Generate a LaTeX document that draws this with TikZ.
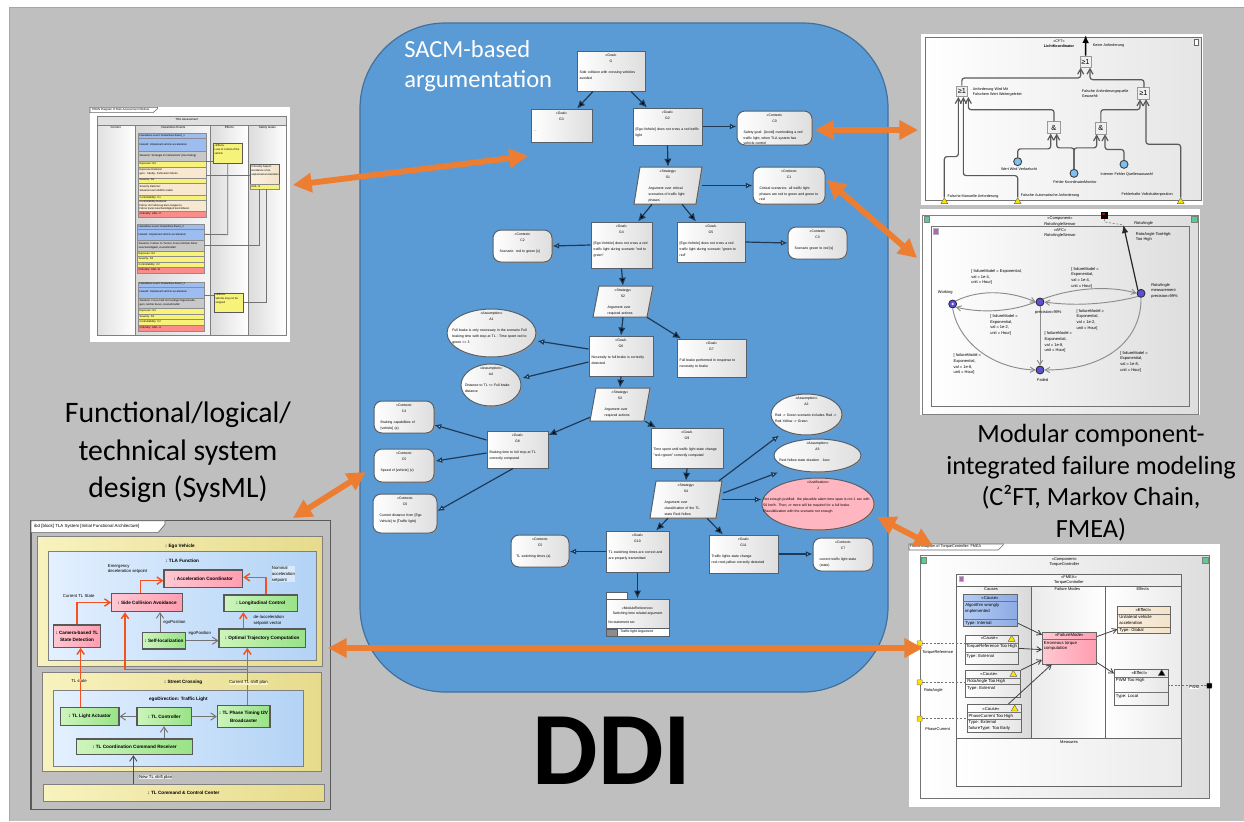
\documentclass[tikz,border=0pt]{standalone}
\usepackage{fontspec}
\setmainfont{Liberation Sans}
\newfontfamily\capfont{Carlito}
\newfontfamily\ddifont{Carlito}
\usetikzlibrary{arrows.meta,shapes.geometric,shadows,calc}
\definecolor{bggray}{HTML}{BFBFBF}
\definecolor{panelblue}{HTML}{5B9BD5}
\definecolor{paneledge}{HTML}{41719C}
\definecolor{orng}{HTML}{ED7D31}
\definecolor{boxedge}{HTML}{55606A}
\definecolor{conn}{HTML}{1E3A57}
\definecolor{redconn}{HTML}{F4511E}
\definecolor{pinkL}{HTML}{FFC8D2}
\definecolor{pinkR}{HTML}{FF9DB0}
\definecolor{greenL}{HTML}{CDF5BC}
\definecolor{greenR}{HTML}{98E286}
\definecolor{yelL}{HTML}{F8F2BE}
\definecolor{yelR}{HTML}{E6DB8C}
\definecolor{bluL}{HTML}{E3F0FF}
\definecolor{bluR}{HTML}{B3D3F5}
\definecolor{causeL}{HTML}{B4CCF4}
\definecolor{causeR}{HTML}{8CAAE4}
\definecolor{beigeL}{HTML}{FBF2E4}
\definecolor{beigeR}{HTML}{F2E2C8}
\definecolor{basicblue}{HTML}{7EC0EE}
\definecolor{stateblue}{HTML}{5A4FD9}
\definecolor{hzblue}{HTML}{9DBDF0}
\definecolor{hzgray}{HTML}{C8C8C8}
\definecolor{hzyellow}{HTML}{F7F37A}
\definecolor{hzbeige}{HTML}{F8E8D0}
\definecolor{hzred}{HTML}{FA8C8C}
\definecolor{justpink}{HTML}{FFB6C1}
\newcommand\fs[2]{\fontsize{#1pt}{#2pt}\selectfont}
\newcount\nc
\def\un{0.75}
% generic rectangle-like node from corners: name,x1,y1,x2,y2,style,text
\newcommand\bx[7]{%
  \pgfmathsetmacro\cxx{(#2+#4)/2}\pgfmathsetmacro\cyy{(#3+#5)/2}%
  \pgfmathsetmacro\wdd{(#4-#2)*\un}\pgfmathsetmacro\htt{(#5-#3)*\un}%
  \node[inner sep=0pt,minimum width=\wdd pt,minimum height=\htt pt,#6] (#1) at (\cxx,\cyy) {#7};}
% text-only node: [opts] x y anchor text
\newcommand\lb[5][]{\global\advance\nc by 1
  \node[inner sep=0pt,anchor=#4,align=left,#1] (t\the\nc) at (#2,#3) {#5};}
% GSN text placed at the top of box #1: width inset, stereotype, id, body
\newcommand\gt[5]{\global\advance\nc by 1
  \pgfmathsetmacro\twd{\wdd-#2}%
  \node[anchor=north,inner sep=0pt,text width=\twd pt,font=\fs{2.6}{4.2},yshift=-2.6pt] (t\the\nc) at (#1.north)
   {\centering #3\\#4\par\vspace{4.4pt}\raggedright #5\par};}
% GSN strategy (parallelogram): name,x1,y1,x2,y2,skew
\newcommand\strat[6]{%
  \draw[gsn] ({#2+#6},#3) -- (#4,#3) -- ({#4-#6},#5) -- (#2,#5) -- cycle;
  \bx{#1}{#2}{#3}{#4}{#5}{}{}}
\tikzset{
  gsn/.style={draw=boxedge,line width=.75pt,left color=white,right color=black!13,
    copy shadow={shadow xshift=.7pt,shadow yshift=-.7pt,draw=none,fill=black!40}},
  goalbox/.style={gsn,rectangle},
  ctxbox/.style={gsn,rectangle,rounded corners=6pt},
  ellbox/.style={gsn,ellipse},
  garrow/.style={draw=conn,line width=.9pt,-{Latex[length=6pt,width=5.5pt,fill=black]}},
  warrow/.style={draw=conn,line width=.9pt,-{Latex[length=5pt,width=4.5pt,fill=white]}},
  bigarrow/.style={draw=orng,line width=4.4pt,{Triangle[length=14pt,width=14pt]}-{Triangle[length=14pt,width=14pt]}},
  captionA/.style={font=\capfont\fs{22.3}{28},align=center,inner sep=0pt},
  captionB/.style={font=\capfont\fs{19.7}{23.6},align=center,inner sep=0pt},
  hzrow/.style={draw=black!45,line width=.25pt,inner sep=0pt},
  t20/.style={font=\fs{2}{2.8}},
  t22/.style={font=\fs{2.2}{3.1}},
  t3/.style={font=\fs{3}{4.2}},
  t32/.style={font=\fs{3.2}{4.4}},
  tb/.style={font=\fs{3.5}{5.6}\bfseries},
  pinkb/.style={draw=black!65,line width=.8pt,left color=pinkL,right color=pinkR,
    copy shadow={shadow xshift=.4pt,shadow yshift=-.4pt,draw=none,fill=black!30}},
  greenb/.style={draw=black!65,line width=.8pt,left color=greenL,right color=greenR,
    copy shadow={shadow xshift=.4pt,shadow yshift=-.4pt,draw=none,fill=black!30}},
  yellowb/.style={draw=black!50,line width=.6pt,left color=yelL,right color=yelR},
  blueb/.style={draw=black!50,line width=.6pt,left color=bluL,right color=bluR},
  rline/.style={draw=redconn,line width=1.1pt,-{Straight Barb[length=4pt,width=5.5pt]}},
  gline/.style={draw=black!55,line width=.7pt,-{Straight Barb[length=4pt,width=5.5pt]}},
  ftline/.style={draw=black!65,line width=.9pt,rounded corners=2pt,-{Straight Barb[length=4pt,width=4.5pt]}},
  gate/.style={draw=black!40,fill=black!6,line width=.5pt,font=\fs{5.5}{6.5}},
  basic/.style={circle,draw=black!75,fill=basicblue,line width=.7pt,inner sep=0pt,minimum size=6pt},
  warn/.style={regular polygon,regular polygon sides=3,draw=black!60,fill=yellow!85!orange,line width=.3pt,inner sep=0pt,minimum size=6pt},
  stateb/.style={circle,draw=black!85,fill=stateblue,line width=.6pt,inner sep=0pt,minimum size=6pt},
  smline/.style={draw=black!45,line width=.7pt,-{Straight Barb[length=3.4pt,width=4pt]}},
  clsbox/.style={draw=black!60,line width=.5pt,left color=white,right color=black!10,
    copy shadow={shadow xshift=.4pt,shadow yshift=-.4pt,draw=none,fill=black!40}},
  clsarrow/.style={draw=black!75,line width=.6pt,-{Straight Barb[length=3.4pt,width=4pt]}},
  port/.style={draw=black!50,fill=yellow!80!orange,line width=.3pt,inner sep=0pt,minimum size=3.9pt,rounded corners=.4pt},
  dashl/.style={draw=black!55,line width=.3pt,dash pattern=on 1.6pt off 1.2pt},
  titletab/.style={draw=black!60,fill=white,line width=.4pt},
  tealtab/.style={draw=black!50,fill=teal!60!green!65,line width=.2pt,inner sep=0pt,minimum size=4.4pt}
}
\begin{document}
\begin{tikzpicture}[x=0.75pt,y=-0.75pt]
\useasboundingbox (0,0) rectangle (1244,821);
\fill[white] (0,0) rectangle (1244,821);
\fill[bggray] (9,7) rectangle (1244,821);
\draw[black!35,line width=.5pt] (9,821) -- (9,7) -- (1244,7);

% ---------- central panel ----------
\bx{panel}{360}{23}{888}{692}{draw=paneledge,line width=.9pt,fill=panelblue,rounded corners=64pt}{}
\lb[font=\capfont\fs{18.4}{22.5},text=white]{404}{66}{west}{SACM-based\\argumentation}

\bx{g0}{577}{51}{645}{91}{goalbox}{}\gt{g0}{4}{«Goal»}{G}{Side collision with crossing vehicles avoided}
\bx{g3}{531}{109}{592}{142}{goalbox}{}\gt{g3}{4}{«Goal»}{G3}{...}
\bx{g2}{633}{108}{702}{145}{goalbox}{}\gt{g2}{4}{«Goal»}{G2}{[Ego-Vehicle] does not cross a red traffic light}
\bx{c0}{737}{111}{812}{145}{ctxbox}{}\gt{c0}{10}{«Context»}{C0}{Safety goal: [Avoid] overlooking a red traffic light, when TLA system has vehicle control}
\strat{s1}{634}{167}{702}{204}{6}\gt{s1}{22}{«Strategy»}{S1}{Argument over critical scenarios of traffic light phases}
\bx{c1}{753}{167}{825}{204}{ctxbox}{}\gt{c1}{10}{«Context»}{C1}{Critical scenarios: all traffic light phases are red to green and green to red}
\bx{g4}{591}{222}{652}{268}{goalbox}{}\gt{g4}{4}{«Goal»}{G4}{[Ego-Vehicle] does not cross a red traffic light during scenario "red to green"}
\bx{g5}{677}{222}{745}{262}{goalbox}{}\gt{g5}{4}{«Goal»}{G5}{[Ego-Vehicle] does not cross a red traffic light during scenario "green to red"}
\bx{c2}{493}{230}{552}{262}{ctxbox}{}\gt{c2}{10}{«Context»}{C2}{Scenario: red to green [s]}
\bx{c3}{788}{227}{847}{259}{ctxbox}{}\gt{c3}{10}{«Context»}{C3}{Scenario green to red [s]}
\strat{s2}{593}{286}{653}{317}{6}\gt{s2}{22}{«Strategy»}{S2}{Argument over required actions}
\bx{g6}{589}{336}{653}{376}{goalbox}{}\gt{g6}{4}{«Goal»}{G6}{Necessity to full brake is correctly detected}
\bx{g7}{677}{339}{746}{377}{goalbox}{}\gt{g7}{4}{«Goal»}{G7}{Full brake performed in response to necessity to brake}
\bx{a1}{447}{309}{536}{357}{ellbox}{}\gt{a1}{8}{«Assumption»}{A1}{Full brake is only necessary in the scenario Full braking time with step at TL - Time spent red to green >= 3}
\bx{a4}{461}{364}{521}{406}{ellbox}{}\gt{a4}{6}{«Assumption»}{A4}{Distance to TL <= Full brake distance}
\strat{s3}{590}{388}{650}{421}{6}\gt{s3}{22}{«Strategy»}{S3}{Argument over required actions}
\bx{g8}{487}{431}{548}{468}{goalbox}{}\gt{g8}{4}{«Goal»}{G8}{Braking time to full stop at TL correctly computed}
\bx{g9}{651}{428}{723}{468}{goalbox}{}\gt{g9}{4}{«Goal»}{G9}{Time spent until traffic light state change "red->green" correctly computed}
\strat{s4}{650}{481}{722}{518}{6}\gt{s4}{22}{«Strategy»}{S4}{Argument over classification of the TL state Red-Yellow}
\bx{a2}{771}{394}{842}{435}{ellbox}{}\gt{a2}{6}{«Assumption»}{A2}{Red -> Green scenario includes Red -> Red-Yellow -> Green}
\bx{a3}{774}{439}{861}{472}{ellbox}{}\gt{a3}{8}{«Assumption»}{A3}{Red-Yellow state duration ~ 1sec}
\bx{jj}{762}{478}{874}{530}{draw=boxedge,line width=.75pt,ellipse,fill=justpink,copy shadow={shadow xshift=.7pt,shadow yshift=-.7pt,draw=none,fill=black!40}}{}\gt{jj}{2}{«Justification»}{J}{Not enough justified: the plausible alarm time span is not 1 sec with 50 km/h. Then, or more will be required for a full brake. Plausibilization with the scenario not enough}
\bx{g10}{606}{531}{669}{572}{goalbox}{}\gt{g10}{4}{«Goal»}{G10}{TL switching times are correct and are properly transmitted}
\bx{g11}{709}{535}{778}{573}{goalbox}{}\gt{g11}{4}{«Goal»}{G11}{Traffic lights state change red->red-yellow correctly detected}
\bx{c5b}{511}{535}{569}{567}{ctxbox}{}\gt{c5b}{8}{«Context»}{C5}{TL switching times (a)}
\bx{c7}{813}{538}{873}{571}{ctxbox}{}\gt{c7}{10}{«Context»}{C7}{current traffic light state (state)}
\bx{c4}{374}{401}{434}{433}{ctxbox}{}\gt{c4}{10}{«Context»}{C4}{Braking capabilities of [vehicle] (a)}
\bx{c5a}{374}{449}{434}{482}{ctxbox}{}\gt{c5a}{10}{«Context»}{C5}{Speed of [vehicle] (v)}
\bx{c6}{373}{494}{437}{533}{ctxbox}{}\gt{c6}{10}{«Context»}{C6}{Current distance from [Ego Vehicle] to [Traffic light]}
% module reference
\bx{pkgtab}{606}{592}{627}{599}{draw=boxedge,line width=.7pt,fill=white}{}
\bx{pkg}{606}{599}{669}{636}{goalbox}{}
\lb[font=\fs{2.6}{4.2},align=center]{637.5}{611}{center}{«ModuleReference»\\Switching time related argument}
\lb[font=\fs{2.6}{4.2}]{608}{622}{west}{No statement set}
\draw[boxedge,line width=.5pt,fill=white] (606,628) rectangle (669,636);
\bx{pkgicon}{606}{629}{617}{636}{draw=boxedge,line width=.5pt,fill=black!45}{}
\lb[font=\fs{2.6}{4.2}]{620}{632}{west}{Traffic light Argument}

% GSN connectors
\draw[garrow] ([shift={(-18,0)}]g0.south) -- ([shift={(15.5,0)}]g3.north);
\draw[garrow] ([shift={(20,0)}]g0.south) -- ([shift={(-20.5,0)}]g2.north);
\draw[warrow] (g2.east) -- (g2.east -| c0.west);
\draw[garrow] (g2.south) -- (s1.north);
\draw[warrow] (s1.east) -- (c1.west);
\draw[garrow] ([shift={(-16,0)}]s1.south) -- ([shift={(16.5,0)}]g4.north);
\draw[garrow] ([shift={(14,0)}]s1.south) -- ([shift={(-15,0)}]g5.north);
\draw[warrow] (g4.west) -- (c2.east);
\draw[warrow] (g5.east) -- (c3.west);
\draw[garrow] (g4.south) -- (s2.north);
\draw[garrow] (s2.south) -- (g6.north);
\draw[garrow] ([shift={(24,0)}]s2.south) -- ([shift={(-30.5,0)}]g7.north);
\draw[warrow] ([shift={(0,-7)}]g6.west) -- ([shift={(1,8)}]a1.east);
\draw[warrow] ([shift={(0,6)}]g6.west) -- ([shift={(1,-7)}]a4.east);
\draw[garrow] (g6.south) -- (s3.north);
\draw[garrow] ([shift={(-30,-4)}]s3.south) -- ([shift={(0,-14.5)}]g8.east);
\draw[garrow] ([shift={(25,0)}]s3.south) -- ([shift={(-31,0)}]g9.north);
\draw[warrow] ([shift={(0,-9.5)}]g8.west) -- ([shift={(0,8)}]c4.east);
\draw[warrow] ([shift={(0,3.5)}]g8.west) -- ([shift={(1,-4.5)}]c5a.east);
\draw[warrow] ([shift={(-4.5,0)}]g8.south) -- ([shift={(0,-2.5)}]c6.east);
\draw[garrow] (g9.south) -- (s4.north);
\draw[warrow] ([shift={(33,0)}]s4.north) -- ([shift={(-27.5,0)}]a2.south);
\draw[warrow] ([shift={(1,-6.5)}]s4.east) -- ([shift={(-39.5,0)}]a3.south);
\draw[warrow] (s4.east) -- (s4.east -| jj.west);
\draw[garrow] ([shift={(-18,0)}]s4.south) -- ([shift={(18.5,0)}]g10.north);
\draw[garrow] ([shift={(21,0)}]s4.south) -- ([shift={(-20.5,0)}]g11.north);
\draw[warrow] (g10.west) -- (g10.west -| c5b.east);
\draw[warrow] (g11.east) -- (g11.east -| c7.west);
\draw[garrow] (g10.south) -- (pkg.north);

% ---------- top-left panel: risk assessment ----------
\begin{scope}[shift={(85,100)},x=0.25pt,y=-0.25pt]
\def\un{0.25}
\bx{tlw}{15}{22}{615}{725}{fill=white}{}
\draw[titletab] (15,22) -- (218,22) -- (218,26) -- (204,38) -- (15,38) -- cycle;
\lb[t22]{20}{30}{west}{HRAN Diagram of Risk Assessment Module}
\bx{tlo}{37}{50}{605}{707}{draw=black!55,line width=.6pt,fill=black!5}{}
\draw[black!50,line width=.4pt,fill=black!12] (37,50) rectangle (605,75);
\lb[t22]{305}{58}{center}{TRA Assessment}
\draw[draw=black!50,line width=.4pt,left color=black!12,right color=white] (37,75) rectangle (150,707);
\draw[draw=black!50,line width=.4pt,left color=black!16,right color=black!4] (150,75) rectangle (377,707);
\draw[draw=black!50,line width=.4pt,left color=black!14,right color=white] (377,75) rectangle (490,707);
\draw[draw=black!50,line width=.4pt,left color=black!14,right color=white] (490,75) rectangle (605,707);
\lb[t22]{92}{82}{center}{Context}
\lb[t22]{265}{82}{center}{Hazardous Events}
\lb[t22]{433}{82}{center}{Effects}
\lb[t22]{547}{82}{center}{Safety Goals}
\newcommand\hz[6]{\bx{hz\the\nc r#3}{#1}{#3}{#2}{#4}{hzrow,fill=#5}{}\lb[t20]{{#1+3}}{{(#3+#4)/2}}{west}{#6}}
\hz{160}{362}{100}{115}{hzblue}{Hazardous event: Hazardous Event\_1}
\hz{160}{362}{115}{152}{hzblue}{Hazard: Unplanned vehicle acceleration}
\hz{160}{362}{152}{183}{hzgray}{Situation: Strategie im Nahverkehr (Use Rating)}
\hz{160}{362}{183}{200}{hzyellow}{Exposure: E3}
\hz{160}{362}{200}{233}{hzbeige}{Exposure Rational:\\gern - häufig - Fahrzeiten fahren}
\hz{160}{362}{233}{248}{hzyellow}{Severity: S3}
\hz{160}{362}{248}{285}{hzbeige}{Severity Rational:\\Situation kann tödlich enden}
\hz{160}{362}{285}{300}{hzyellow}{Controllability: C1}
\hz{160}{362}{300}{333}{hzbeige}{Controllability Rational:\\Fahrer im Fahrzeug kann reagieren,\\Fahrer kann Geschwindigkeit kontrollieren}
\hz{160}{362}{333}{352}{hzred}{Criticality: ASIL: C}
\hz{157}{358}{372}{388}{hzblue}{Hazardous event: Hazardous Event\_2}
\hz{157}{358}{388}{420}{hzblue}{Hazard: Unplanned vehicle acceleration}
\hz{157}{358}{420}{453}{hzgray}{Situation: Fahren im Tunnel, Fress-Feld bei hoher\\Geschwindigkeit, Ausnahmefall}
\hz{157}{358}{453}{469}{hzyellow}{Exposure: E3}
\hz{157}{358}{469}{485}{hzyellow}{Severity: S3}
\hz{157}{358}{485}{501}{hzyellow}{Controllability: C2}
\hz{157}{358}{501}{518}{hzred}{Criticality: ASIL: B}
\hz{160}{358}{545}{560}{hzblue}{Hazardous event: Hazardous Event\_3}
\hz{160}{358}{560}{593}{hzblue}{Hazard: Unplanned vehicle acceleration}
\hz{160}{358}{593}{625}{hzgray}{Situation: Fress-Feld mit niedriger Eigenstraße,\\gern, leichte Kurve, Ausnahmefall}
\hz{160}{358}{625}{641}{hzyellow}{Exposure: E3}
\hz{160}{358}{641}{657}{hzyellow}{Severity: S3}
\hz{160}{358}{657}{674}{hzyellow}{Controllability: C2}
\hz{160}{358}{674}{692}{hzred}{Criticality: ASIL: A}
\bx{ef1}{385}{130}{472}{190}{hzrow,draw=black!65,line width=.5pt,fill=hzyellow}{}
\lb[t20]{388}{148}{west}{«Effect»\\Loss of control of the\\vehicle}
\bx{ef2}{388}{580}{476}{636}{hzrow,draw=black!65,line width=.5pt,fill=hzyellow}{}
\lb[t20]{391}{597}{west}{«Effect»\\Vehicle may not be\\stopped}
\bx{sg}{495}{193}{583}{267}{hzrow,draw=black!65,line width=.5pt,left color=beigeL,right color=beigeR}{}
\bx{sgb}{495}{252}{583}{267}{hzrow,fill=hzyellow}{}
\lb[t20]{498}{212}{west}{Criticality Aspect:\\Avoidance of an\\unplanned acceleration}
\lb[t20]{498}{259}{west}{ASIL: B}
\draw[black!55,line width=.6pt] (ef1.south) -- ++(0,213) -- (358,403);
\draw[black!55,line width=.6pt] (362,185) -- (ef1.west |- 362,185);
\draw[black!55,line width=.6pt] (362,226) -- (sg.west |- 362,226);
\draw[black!55,line width=.6pt] ([shift={(-16,0)}]sg.south) |- (358,437);
\draw[black!55,line width=.6pt] (358,587) -- (ef2.west |- 358,587);
\draw[black!55,line width=.6pt] (ef2.east |- 476,606) -| ([shift={(6,0)}]sg.south);
\end{scope}

% ---------- top-right panel: CFT ----------
\begin{scope}[shift={(915,30)},x=0.25pt,y=-0.25pt]
\def\un{0.25}
\bx{trw}{18}{12}{865}{525}{fill=white}{}
\bx{tro}{30}{22}{860}{512}{draw=black!55,line width=.6pt,left color=white,right color=black!10}{}
\draw[black!60,line width=.3pt,fill=white] (838,28) rectangle (850,45);
\coordinate (ftop) at (512,15);
\bx{gt}{495}{78}{528}{112}{gate}{≥1}
\bx{gl}{123}{168}{158}{200}{gate}{≥1}
\bx{gr}{668}{173}{703}{207}{gate}{≥1}
\bx{ga}{398}{275}{435}{310}{gate}{\&}
\bx{gb}{540}{278}{575}{312}{gate}{\&}
\node[basic] (cw) at (308,395) {};
\node[basic] (ck) at (477,430) {};
\node[basic] (ci) at (627,403) {};
\node[warn] (tr1) at (88,515) {};
\node[warn] (tr2) at (308,515) {};
\node[warn] (tr3) at (797,515) {};
\draw[black,line width=1.1pt,-{Latex[length=6pt,width=5pt]}] (gt.north) -- (ftop);
\draw[ftline] (gl.north) -- ++(0,-23) -| ([shift={(-14.5,0)}]gt.south);
\draw[ftline] ([shift={(1.5,0)}]gr.north) -- ++(0,-23) -| ([shift={(13.5,0)}]gt.south);
\draw[ftline] ([shift={(.5,0)}]ga.north) -- ++(0,-35) -| ([shift={(19.5,0)}]gl.south);
\draw[ftline] (gb.north) -- ++(0,-38) -| ([shift={(-10.5,0)}]gr.south);
\draw[ftline] (tr1.north) -- ++(0,-122) -| ([shift={(-10.5,0)}]gl.south);
\draw[ftline] (tr2.north) -- ++(0,-65) -| ([shift={(4.5,0)}]gl.south);
\draw[ftline] (tr3.north) -- ++(0,-159) -| ([shift={(7.5,0)}]gr.south);
\draw[ftline] (cw.north) -- ++(0,-25) -| ([shift={(-9.5,0)}]ga.south);
\draw[ftline] (ck.north) -- ++(0,-63) -| ([shift={(8.5,0)}]ga.south);
\draw[ftline] (ck.north) -- ++(0,-63) -| ([shift={(-12.5,0)}]gb.south);
\draw[ftline] (ci.north) -- ++(0,-31) -| ([shift={(12.5,0)}]gb.south);
\lb[font=\fs{2.8}{3.9},align=center]{432}{42}{center}{«CFT»\\\textbf{LichtKoordinator}}
\lb[font=\fs{2.8}{3.9}]{533}{46}{west}{Keine Anforderung}
\lb[font=\fs{2.8}{3.9}]{173}{186}{west}{Anforderung Wird Mit\\Falschem Wert Weitergeleitet}
\lb[font=\fs{2.8}{3.9}]{500}{190}{west}{Falsche Anforderungsquelle\\Gewaehlt}
\lb[font=\fs{2.8}{3.9}]{312}{417}{center}{Wert Wird Verfaelscht}
\lb[font=\fs{2.8}{3.9}]{480}{457}{center}{Fehler KoordinatorMonitor}
\lb[font=\fs{2.8}{3.9}]{635}{432}{center}{Interner Fehler Quellenauswahl}
\lb[font=\fs{2.8}{3.9}]{97}{499}{west}{Falsche Manuelle Anforderung}
\lb[font=\fs{2.8}{3.9}]{317}{497}{west}{Falsche Automatische Anforderung}
\lb[font=\fs{2.8}{3.9}]{619}{494}{west}{Fehlerhafte Volkshalterposition}
\end{scope}

% ---------- middle-right panel: Markov chain ----------
\begin{scope}[shift={(915,205)},x=0.25pt,y=-0.25pt]
\def\un{0.25}
\bx{mrw}{15}{12}{855}{630}{fill=white}{}
\bx{mro}{22}{30}{850}{627}{draw=black!50,line width=.6pt,left color=white,right color=black!13}{}
\bx{mri}{50}{65}{823}{605}{draw=black!55,line width=.8pt,left color=white,right color=black!13}{}
\node[tealtab] (tab1) at (35,42) {};
\node[tealtab] (tab2) at (838,42) {};
\bx{mic}{55}{70}{70}{87}{fill=violet!60!white,draw=black!30,line width=.2pt}{}
\bx{bsq}{558}{20}{579}{41}{fill=black}{}
\bx{bsr}{561}{23}{569}{29}{fill=red!70!black}{}
\node[stateb] (sw) at (113,297) {};
\fill[white!85!blue] (113,297) circle (4);
\node[stateb] (sp) at (375,291) {};
\node[stateb] (sr) at (678,265) {};
\node[stateb] (sf) at (375,495) {};
\coordinate (rtop) at (625,60);
\draw[dashl,line width=.4pt] (bsq.south) -- ++(0,9) -- (rtop);
\draw[black!85,line width=.9pt,-{Latex[length=6pt,width=5pt]}] (sr.north west) -- (rtop);
\draw[smline] (sw.north east) .. controls (200,250) and (290,260) .. (sp.west);
\draw[smline] (sp.west) .. controls (290,320) and (200,325) .. (sw.south east);
\draw[smline] (sp.north east) .. controls (470,250) and (580,240) .. (sr.west);
\draw[smline] (sr.south west) .. controls (590,295) and (490,305) .. (sp.east);
\draw[smline] (sp.south) -- (sf.north);
\draw[smline] (sw.south) .. controls (130,410) and (230,490) .. (sf.west);
\draw[smline] (sr.south) .. controls (680,400) and (580,495) .. (sf.east);
\lb[t3,align=center]{435}{67}{center}{«Component»\\RotoAngleSensor\\«AFC»\\RotoAngleSensor}
\lb[t3]{657}{55}{west}{RotoAngle}
\lb[t3]{662}{96}{west}{RotoAngle TooHigh:\\Too High}
\lb[t3]{168}{216}{west}{[ failureModel = Exponential,\\val = 1e-4,\\unit = Hour]}
\lb[t3]{468}{218}{west}{[ failureModel =\\Exponential,\\val = 1e-4,\\unit = Hour]}
\lb[t3]{225}{360}{west}{[ failureModel =\\Exponential,\\val = 1e-2,\\unit = Hour]}
\lb[t3]{484}{344}{west}{[ failureModel =\\Exponential,\\val = 1e-2,\\unit = Hour]}
\lb[t3]{388}{412}{west}{[ failureModel =\\Exponential,\\val = 1e-8,\\unit = Hour]}
\lb[t3]{115}{478}{west}{[ failureModel =\\Exponential,\\val = 1e-8,\\unit = Hour]}
\lb[t3]{615}{470}{west}{[ failureModel =\\Exponential,\\val = 1e-8,\\unit = Hour]}
\lb[t3]{68}{262}{west}{Working}
\lb[t3]{400}{322}{center}{precision=99\%}
\lb[t3]{708}{257}{west}{RotoAngle\\measurement\\precision=99\%}
\lb[t3]{383}{526}{center}{Failed}
\end{scope}

% ---------- bottom-left panel: SysML ----------
\begin{scope}[shift={(20,515)},x=0.25pt,y=-0.25pt]
\def\un{0.25}
\bx{sys}{33}{17}{932}{883}{draw=black!65,line width=.8pt,fill=bggray}{}
\draw[titletab,line width=.5pt] (33,17) -- (435,17) -- (435,28) -- (415,52) -- (33,52) -- cycle;
\lb[font=\fs{3.3}{4.4}]{42}{35}{west}{ibd [block] TLA System [Initial Functional Architecture]}
\bx{ego}{52}{65}{907}{455}{yellowb}{}
\bx{tla}{85}{108}{888}{435}{blueb}{}
\bx{str}{68}{473}{905}{770}{yellowb}{}
\bx{tld}{100}{525}{850}{755}{blueb}{}
\bx{cmd}{70}{807}{912}{858}{yellowb}{\fontsize{3.5pt}{5pt}\selectfont\bfseries : TL Command \& Control Center}
\lb[tb]{480}{93}{center}{: Ego Vehicle}
\lb[tb]{487}{137}{center}{: TLA Function}
\lb[tb]{490}{502}{center}{: Street Crossing}
\lb[tb]{475}{553}{center}{egoDirection: Traffic Light}
\bx{acc}{432}{165}{668}{217}{pinkb,tb,align=center}{: Acceleration Coordinator}
\bx{side}{275}{235}{488}{290}{pinkb,tb,align=center}{: Side Collision Avoidance}
\bx{cam}{100}{330}{242}{397}{pinkb,tb,align=center}{: Camera-based TL\\State Detection}
\bx{long}{612}{240}{832}{290}{greenb,tb,align=center}{: Longitudinal Control}
\bx{self}{368}{352}{497}{402}{greenb,tb,align=center}{: Self-localization}
\bx{opt}{597}{342}{857}{397}{greenb,tb,align=center}{: Optimal Trajectory Computation}
\bx{act}{122}{577}{297}{632}{greenb,tb,align=center}{: TL Light Actuator}
\bx{ctrl}{351}{577}{515}{632}{greenb,tb,align=center}{: TL Controller}
\bx{phase}{592}{572}{750}{638}{greenb,tb,align=center}{: TL Phase Timing I2V\\Broadcaster}
\bx{coord}{170}{672}{518}{719}{greenb,tb,align=center}{: TL Coordination Command Receiver}
\draw[rline] (cam.north) |- (side.west);
\draw[rline] ([shift={(-19.5,0)}]side.north) |- ([shift={(0,6)}]acc.west);
\draw[rline] ([shift={(16,0)}]long.north) |- ([shift={(0,-4)}]acc.east);
\draw[rline] ([shift={(-57,0)}]opt.north) -- ([shift={(-52,0)}]long.south);
\draw[rline] ([shift={(11,0)}]phase.north) -- ([shift={(-45,0)}]opt.south);
\draw[rline] ([shift={(11,-107)}]phase.north) -| ([shift={(-66.5,0)}]side.south);
\draw[rline] ([shift={(-27.5,0)}]act.north) -- ([shift={(11,0)}]cam.south);
\draw[gline] ([shift={(-12.5,0)}]self.north) -- ([shift={(38.5,0)}]side.south);
\draw[gline] (self.east) -- (self.east -| opt.west);
\draw[gline] (ctrl.west) -- (ctrl.west -| act.east);
\draw[gline] (ctrl.east) -- (ctrl.east -| phase.west);
\draw[gline] ([shift={(88,0)}]coord.north) -- ([shift={(-1,0)}]ctrl.south);
\draw[gline,draw=black!70] ([shift={(-151,0)}]cmd.north) -- ([shift={(-4,0)}]coord.south);
\lb[t32]{263}{162}{west}{Emergency\\deceleration setpoint}
\lb[t32,fill=bluR!50!white]{755}{178}{west}{Nominal\\acceleration\\setpoint}
\lb[t32]{128}{243}{west}{Current TL State}
\lb[t32]{429}{323}{west}{egoPosition}
\lb[t32]{505}{355}{west}{egoPosition}
\lb[t32]{700}{316}{west}{de-/acceleration\\setpoint vector}
\lb[t32,fill=yelL]{177}{497}{center}{TL state}
\lb[t32,fill=yelL]{685}{503}{center}{Current TL shift plan}
\lb[t32,fill=black!8]{407}{787}{center}{New TL shift plan}
\end{scope}

% ---------- bottom-right panel: FMEA ----------
\begin{scope}[shift={(905,540)},x=0.25pt,y=-0.25pt]
\def\un{0.25}
\bx{brw}{12}{12}{945}{800}{fill=white}{}
\draw[titletab,line width=.4pt] (12,12) -- (295,12) -- (295,15) -- (280,30) -- (12,30) -- cycle;
\lb[font=\fs{2.8}{3.8}]{14}{20}{west}{FMEA Diagram of TorqueController: FMEA}
\bx{bro}{45}{47}{913}{775}{draw=black!55,line width=.6pt,left color=white,right color=black!13}{}
\bx{bri}{155}{103}{830}{740}{draw=black!60,line width=.7pt,left color=white,right color=black!8}{}
\draw[black!60,line width=.5pt] (155,138) -- (830,138);
\draw[draw=black!60,line width=.5pt,left color=white,right color=black!15] (155,138) rectangle (378,595);
\draw[draw=black!60,line width=.5pt,left color=black!8,right color=white] (378,138) rectangle (601,595);
\draw[draw=black!60,line width=.5pt,left color=white,right color=black!8] (601,138) rectangle (830,595);
\node[tealtab] (tab3) at (56,60) {};
\node[tealtab] (tab4) at (901,60) {};
\bx{bic}{161}{107}{175}{122}{fill=violet!60!white,draw=black!30,line width=.2pt}{}
\lb[t3,align=center]{478}{66}{center}{«Component»\\TorqueController}
\lb[t3,align=center]{492}{120}{center}{«FMEA»\\TorqueController}
\lb[t3]{258}{147}{center}{Causes}
\lb[t3]{487}{147}{center}{Failure Modes}
\lb[t3]{713}{147}{center}{Effects}
\lb[t3]{492}{605}{center}{Measures}
% causes
\bx{ca1}{175}{162}{338}{258}{clsbox,left color=causeL,right color=causeR}{}
\draw[black!55,line width=.4pt] (175,185) -- (338,185) (175,238) -- (338,238);
\lb[t32]{255}{173}{center}{«Cause»}
\lb[t32]{180}{204}{west}{Algorithm wrongly\\implemented}
\lb[t32]{180}{250}{west}{Type: Internal}
\bx{ca2}{180}{285}{340}{373}{clsbox}{}
\draw[black!55,line width=.4pt] (180,310) -- (340,310) (180,337) -- (340,337);
\lb[t32]{253}{295}{center}{«Cause»}
\lb[t32]{183}{318}{west}{TorqueReference Too High}
\lb[t32]{183}{349}{west}{Type: External}
\node[warn] (tw2) at (320,298) {};
\bx{ca3}{182}{390}{347}{472}{clsbox}{}
\draw[black!55,line width=.4pt] (182,415) -- (347,415) (182,433) -- (347,433);
\lb[t32]{252}{402}{center}{«Cause»}
\lb[t32]{186}{423}{west}{RotoAngle Too High}
\lb[t32]{186}{446}{west}{Type: External}
\node[warn] (tw3) at (325,403) {};
\bx{ca4}{188}{493}{350}{577}{clsbox}{}
\draw[black!55,line width=.4pt] (188,517) -- (350,517) (188,538) -- (350,538);
\lb[t32]{258}{506}{center}{«Cause»}
\lb[t32]{190}{528}{west}{PhaseCurrent Too High}
\lb[t32]{190}{557}{west}{Type: External\\failureType: Too Early}
\node[warn] (tw4) at (329,507) {};
% failure mode
\bx{fm}{412}{277}{575}{372}{clsbox,left color=pinkL,right color=pinkR}{}
\draw[black!55,line width=.4pt] (412,298) -- (575,298);
\lb[t32]{493}{285}{center}{«FailureMode»}
\lb[t32]{416}{318}{west}{Erroneous torque\\computation}
% effects
\bx{ef3}{638}{199}{795}{280}{clsbox,left color=beigeL,right color=beigeR}{}
\draw[black!55,line width=.4pt] (638,222) -- (795,222) (638,262) -- (795,262);
\lb[t32]{715}{209}{center}{«Effect»}
\lb[t32]{642}{241}{west}{Unilateral vehicle\\acceleration}
\lb[t32]{642}{270}{west}{Type: Global}
\bx{ef4}{628}{388}{790}{495}{clsbox}{}
\draw[black!55,line width=.4pt] (628,413) -- (790,413) (628,458) -- (790,458);
\lb[t32]{703}{398}{center}{«Effect»}
\lb[t32]{632}{422}{west}{PWM Too High}
\lb[t32]{632}{470}{west}{Type: Local}
\node[warn,fill=black] (tw5) at (770,401) {};
% ports
\node[port] (p1) at (44,310) {};
\node[port] (p2) at (44,427) {};
\node[port] (p3) at (44,536) {};
\node[port,fill=black] (p4) at (913,437) {};
\lb[t3]{98}{338}{center}{TorqueReference}
\lb[t3]{85}{450}{center}{RotoAngle}
\lb[t3]{98}{567}{center}{PhaseCurrent}
\lb[t3,fill=white]{868}{442}{center}{PWM}
\draw[dashl] (p1.east) -- (p1.east -| ca2.west);
\draw[dashl] (p2.east) -- (p2.east -| ca3.west);
\draw[dashl] (p3.east) -- (p3.east -| ca4.west);
\draw[dashl] (p4.west) -- (p4.west -| ef4.east);
\draw[clsarrow] ([shift={(0,40)}]ca1.east) -- ([shift={(0,-40)}]fm.west);
\draw[clsarrow] ([shift={(0,-4)}]ca2.east) -- ([shift={(0,0)}]fm.west |- ca2.east);
\draw[clsarrow] ([shift={(0,-41)}]ca3.east) -- ([shift={(0,35)}]fm.west);
\draw[clsarrow] ([shift={(41,0)}]ca4.north) -- ([shift={(-53.5,0)}]fm.south);
\draw[clsarrow] ([shift={(0,-35)}]fm.east) -- ([shift={(0,28)}]ef3.west);
\draw[clsarrow] ([shift={(0,43)}]fm.east) -- ([shift={(0,-41)}]ef4.west);
\end{scope}

% ---------- captions ----------
\lb[captionA]{178}{452.5}{center}{Functional/logical/\\technical system\\design (SysML)}
\lb[captionB]{1091}{482.5}{center}{Modular component-\\integrated failure modeling\\(C²FT, Markov Chain,\\FMEA)}
\lb[font=\ddifont\bfseries\fs{78}{90}]{612}{751}{center}{DDI}

% ---------- orange double arrows ----------
\coordinate (oa1) at (293,185); \coordinate (oa2) at (528,156);
\coordinate (ob1) at (815,130); \coordinate (ob2) at (918,130);
\coordinate (oc1) at (827,180); \coordinate (oc2) at (917,258);
\coordinate (od1) at (293,518); \coordinate (od2) at (366,472);
\coordinate (oe1) at (877,517); \coordinate (oe2) at (933,546);
\coordinate (of1) at (328,648); \coordinate (of2) at (923,648);
\draw[bigarrow] (oa1) -- (oa2);
\draw[bigarrow] (ob1) -- (ob2);
\draw[bigarrow] (oc1) -- (oc2);
\draw[bigarrow] (od1) -- (od2);
\draw[bigarrow] (oe1) -- (oe2);
\draw[bigarrow] (of1) -- (of2);
\end{tikzpicture}
\end{document}
